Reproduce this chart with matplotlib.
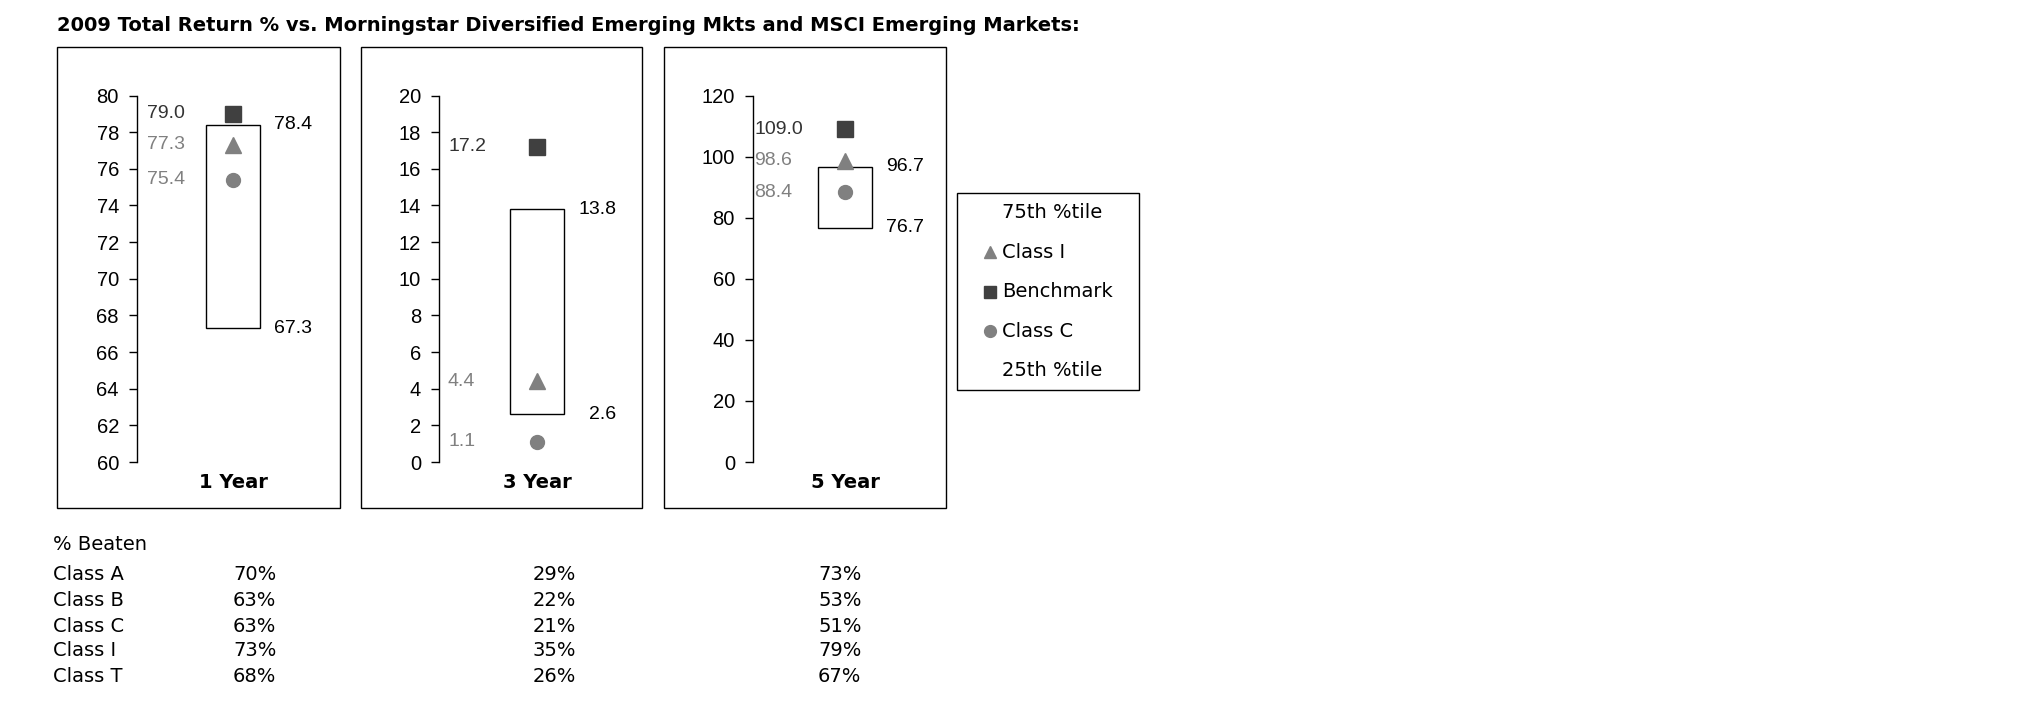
import matplotlib
matplotlib.use("Agg")
import matplotlib.pyplot as plt
import matplotlib.transforms as mtransforms
from matplotlib.patches import Rectangle
from matplotlib.lines import Line2D

# ----------------------------------------------------------------------
# data
# ----------------------------------------------------------------------
periods = ["1 Year", "3 Year", "5 Year"]
pct75 = [78.4, 13.8, 96.7]
pct25 = [67.3, 2.6, 76.7]
class_i = [77.3, 4.4, 98.6]
benchmark = [79.0, 17.2, 109.0]
class_c = [75.4, 1.1, 88.4]

y_min = [60, 0, 0]
y_max = [80, 20, 120]
y_step = [2, 2, 20]

beaten_classes = ["Class A", "Class B", "Class C", "Class I", "Class T"]
beaten_1y = [70, 63, 63, 73, 68]
beaten_3y = [29, 22, 21, 35, 26]
beaten_5y = [73, 53, 51, 79, 67]

title = "2009 Total Return % vs. Morningstar Diversified Emerging Mkts and MSCI Emerging Markets:"

# ----------------------------------------------------------------------
# layout (pixels)
# ----------------------------------------------------------------------
W, H = 2025, 717
def fx(x): return x / W
def fy(y): return 1 - y / H

spine_x = [137, 439, 753]
frame_x = [(57, 340), (361, 642), (664, 946)]
frame_top, frame_bot = 47, 508
ax_top, ax_bot = 95.5, 462
box_center = [96, 98, 92]
box_w = 54
left_lab_x = [10, 9, 1]

DARK = "#404040"
GREY = "#808080"
NUM_FONT = "Liberation Sans"
TXT_FONT = "DejaVu Sans"

fig = plt.figure(figsize=(W / 100, H / 100), dpi=100)
fig.patch.set_facecolor("white")

fig.text(fx(57), fy(25.5), title, fontsize=14.0, fontweight="bold",
         family=TXT_FONT, ha="left", va="center")

for i in range(3):
    # outer frame of each panel
    x0, x1 = frame_x[i]
    fig.add_artist(Rectangle((fx(x0), fy(frame_bot)), (x1 - x0) / W,
                             (frame_bot - frame_top) / H, transform=fig.transFigure,
                             fill=False, edgecolor="black", linewidth=1.0))

    ax = fig.add_axes([fx(spine_x[i]), fy(ax_bot), 200 / W, (ax_bot - ax_top) / H])
    ax.set_facecolor("none")
    ax.set_xlim(0, 200)
    ax.set_ylim(y_min[i], y_max[i])
    ax.set_yticks(range(y_min[i], y_max[i] + 1, y_step[i]))
    for s in ["top", "right", "bottom"]:
        ax.spines[s].set_visible(False)
    ax.spines["left"].set_linewidth(1.0)
    ax.set_xticks([])
    ax.tick_params(axis="y", length=6, width=1.0, pad=7, labelsize=14.5)
    for lab in ax.get_yticklabels():
        lab.set_fontfamily(NUM_FONT)

    c = box_center[i]
    ax.bar(c, pct75[i] - pct25[i], bottom=pct25[i], width=box_w,
           fill=False, edgecolor="black", linewidth=1.0)
    ax.plot([c], [benchmark[i]], marker="s", ms=11.5, color=DARK, linestyle="none")
    ax.plot([c], [class_i[i]], marker="^", ms=11, color=GREY, linestyle="none")
    ax.plot([c], [class_c[i]], marker="o", ms=10, color=GREY, linestyle="none")

    lx = left_lab_x[i]
    ax.text(lx, benchmark[i], f"{benchmark[i]:.1f}", color="#333333", fontsize=14,
            family=NUM_FONT, ha="left", va="center")
    ax.text(lx, class_i[i], f"{class_i[i]:.1f}", color=GREY, fontsize=14,
            family=NUM_FONT, ha="left", va="center")
    ax.text(lx, class_c[i], f"{class_c[i]:.1f}", color=GREY, fontsize=14,
            family=NUM_FONT, ha="left", va="center")
    ax.text(c + 79, pct75[i], f"{pct75[i]:.1f}", color="black", fontsize=14,
            family=NUM_FONT, ha="right", va="center")
    ax.text(c + 79, pct25[i], f"{pct25[i]:.1f}", color="black", fontsize=14,
            family=NUM_FONT, ha="right", va="center")

    trans = mtransforms.blended_transform_factory(ax.transData, fig.transFigure)
    ax.text(c, fy(483), periods[i], transform=trans, fontsize=14, fontweight="bold",
            family=TXT_FONT, ha="center", va="center")

# legend drawn by hand
fig.add_artist(Rectangle((fx(957), fy(390)), (1139 - 957) / W, (390 - 193) / H,
                         transform=fig.transFigure, fill=False,
                         edgecolor="black", linewidth=1.0))
leg_rows = [("75th %tile", None, None), ("Class I", "^", GREY),
            ("Benchmark", "s", DARK), ("Class C", "o", GREY), ("25th %tile", None, None)]
for k, (name, mk, col) in enumerate(leg_rows):
    yy = 213 + k * 39.5
    fig.text(fx(1002), fy(yy), name, fontsize=14, family=TXT_FONT,
             ha="left", va="center")
    if mk:
        fig.add_artist(Line2D([fx(990)], [fy(yy)], marker=mk, ms=8.5, color=col,
                              linestyle="none", transform=fig.transFigure))

# % beaten table
fig.text(fx(53), fy(545), "% Beaten", fontsize=14, family=TXT_FONT, ha="left", va="center")
col_x = [233, 533, 818]
row_y = [575, 600.5, 626, 651, 676.5]
for r, name in enumerate(beaten_classes):
    fig.text(fx(53), fy(row_y[r]), name, fontsize=14, family=TXT_FONT,
             ha="left", va="center")
    for cx, vals in zip(col_x, [beaten_1y, beaten_3y, beaten_5y]):
        fig.text(fx(cx), fy(row_y[r]), f"{vals[r]}%", fontsize=14, family=TXT_FONT,
                 ha="left", va="center")

fig.savefig("out.png", dpi=100, facecolor="white")
